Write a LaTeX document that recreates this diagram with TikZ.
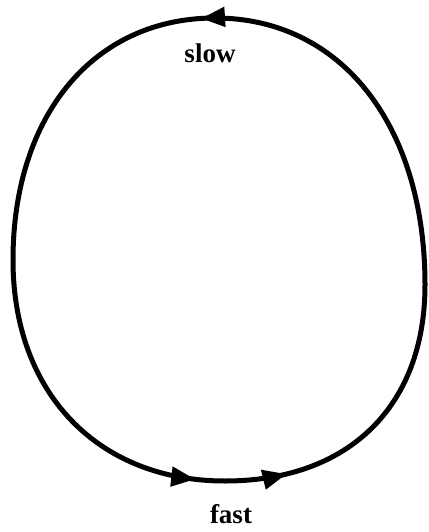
\documentclass[tikz,border=0pt]{standalone}
\usepackage{fontspec}
\setmainfont{Liberation Serif}
\usetikzlibrary{arrows.meta,decorations.markings}

\begin{document}
\begin{tikzpicture}[
  x=1pt, y=-1pt,
  >={Triangle[length=24pt,width=19pt]},
  loop/.style={line width=5pt,
    postaction={decorate, decoration={markings,
      mark=at position 14pt with {\arrow{>}},
      mark=at position 669pt with {\arrow{>}},
      mark=at position 761pt with {\arrow{>}}}}},
  lbl/.style={font=\bfseries\fontsize{27}{30}\selectfont, inner sep=0pt},
]
  \useasboundingbox (0,0) rectangle (428,532);
  % ---------- the cycle ----------
  \coordinate (top)    at (215,18);
  \coordinate (left)   at (13,260);
  \coordinate (bottom) at (225,481);
  \coordinate (right)  at (425,285);
  \draw[loop] (top)
    .. controls (94,18) and (13,115) .. (left)
    .. controls (13,393) and (98,481) .. (bottom)
    .. controls (349,481) and (425,406) .. (right)
    .. controls (425,125) and (341,18) .. (top) -- cycle;
  % ---------- labels ----------
  \node[lbl] (slow) at (210,53) {slow};
  \node[lbl] (fast) at (231,514) {fast};
\end{tikzpicture}
\end{document}
